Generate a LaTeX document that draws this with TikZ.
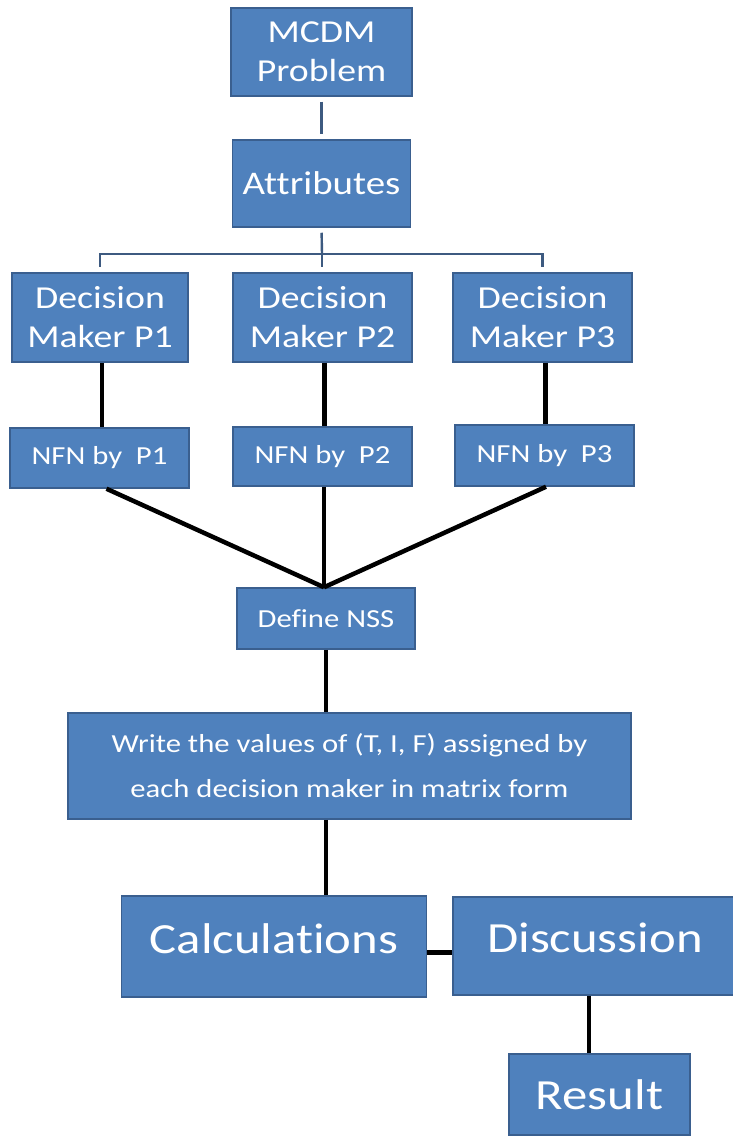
\documentclass[tikz,border=0pt]{standalone}
\usepackage{fontspec}
\setmainfont{Carlito}[FakeStretch=1.18, Ligatures={NoCommon}]
\definecolor{boxfill}{HTML}{4F81BD}
\definecolor{boxedge}{HTML}{3A5F8F}
\definecolor{thinline}{HTML}{3D5A80}
\begin{document}
\begin{tikzpicture}[x=1pt,y=-1pt,
  box/.style={draw=boxedge, line width=1.5pt, fill=boxfill, text=white, align=center, inner sep=0pt},
  fa/.style={font=\fontsize{32}{39}\selectfont},
  fb/.style={font=\fontsize{26}{45}\selectfont},
  fc/.style={font=\fontsize{43}{50}\selectfont},
  thinconn/.style={draw=thinline, line width=2.4pt},
  thickconn/.style={draw=black, line width=4.5pt},
]
\useasboundingbox (0,0) rectangle (732,1142);

\node[box, fa, minimum width=181pt, minimum height=88pt] (mcdm) at (321.5,52) {MCDM\\Problem};
\node[box, fa, font=\fontsize{33}{39}\selectfont, minimum width=178pt, minimum height=87pt] (attr) at (321.5,183.5) {Attributes};

\node[box, fa, minimum width=176pt, minimum height=89pt] (dm1) at (100,317.5) {Decision\\Maker P1};
\node[box, fa, minimum width=179pt, minimum height=89pt] (dm2) at (322.5,317.5) {Decision\\Maker P2};
\node[box, fa, minimum width=179pt, minimum height=89pt] (dm3) at (542.5,317.5) {Decision\\Maker P3};

\node[box, fb, minimum width=179pt, minimum height=60pt] (nfn1) at (99.5,458) {NFN by\ \ P1};
\node[box, fb, minimum width=179pt, minimum height=59pt] (nfn2) at (322.5,456.5) {NFN by\ \ P2};
\node[box, fb, minimum width=179pt, minimum height=61pt] (nfn3) at (544.5,455.5) {NFN by\ \ P3};

\node[box, fb, minimum width=178pt, minimum height=61pt] (nss) at (326,618.5) {Define NSS};

\node[box, fb, minimum width=563pt, minimum height=106pt] (write) at (349.5,766) {Write the values of (T, I, F) assigned by\\each decision maker in matrix form};

\node[box, fc, text depth=16pt, minimum width=305pt, minimum height=101pt] (calc) at (274,946.5) {Calculations};
\node[box, fc, text depth=16pt, minimum width=284pt, minimum height=98pt] (disc) at (595,946) {Discussion};
\node[box, fc, minimum width=181pt, minimum height=81pt] (res) at (599.5,1094.5) {Result};

% top thin connectors
\draw[thinconn, shorten <=5pt, shorten >=5pt] (mcdm.south) -- (attr.north);
\coordinate (bus) at (322,254);
\draw[thinconn, shorten <=5pt] (attr.south) -- (bus);
\draw[thinconn, shorten >=5pt] (bus) -| (dm1.north);
\draw[thinconn, shorten >=5pt] (bus) -| (dm3.north);
\draw[thinconn, shorten >=5pt] (bus) -- (bus |- dm2.north);

% black connectors
\draw[thickconn] ([xshift=2pt]dm1.south) -- ([xshift=2pt]dm1.south |- nfn1.north);
\draw[thickconn] ([xshift=2pt]dm2.south) -- ([xshift=2pt]dm2.south |- nfn2.north);
\draw[thickconn] ([xshift=3pt]dm3.south) -- ([xshift=3pt]dm3.south |- nfn3.north);

\draw[thickconn] ([xshift=7pt]nfn1.south) -- ([xshift=-2pt]nss.north);
\draw[thickconn] ([xshift=1.5pt]nfn2.south) -- ([xshift=-2pt]nss.north);
\draw[thickconn] ([xshift=1.5pt]nfn3.south) -- ([xshift=-2pt]nss.north);

\draw[thickconn] (nss.south) -- (nss.south |- write.north);
\draw[thickconn] (write.south -| nss.south) -- (calc.north -| nss.south);
\draw[thickconn] ([yshift=-6pt]calc.east) -- ([yshift=-6pt]calc.east -| disc.west);
\draw[thickconn] ([xshift=-6pt]disc.south) -- ([xshift=-6pt]disc.south |- res.north);
\end{tikzpicture}
\end{document}
